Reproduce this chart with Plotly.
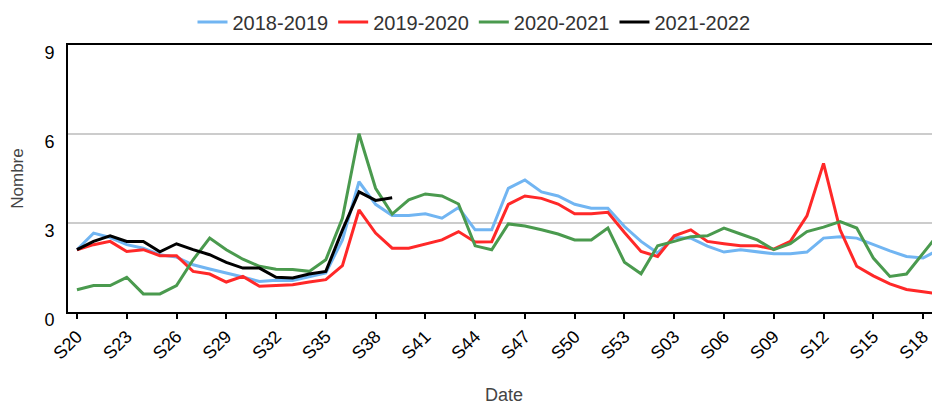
import plotly.graph_objects as go

# weeks S20..S53 then S01..S19
weeks = ["S%02d" % w for w in range(20, 54)] + ["S%02d" % w for w in range(1, 20)]
tick_weeks = weeks[::3]

s2018 = [2.10, 2.66, 2.51, 2.27, 2.15, 1.93, 1.85, 1.59, 1.45, 1.32,
         1.18, 1.03, 1.07, 1.06, 1.20, 1.32, 2.43, 4.39, 3.63, 3.25,
         3.25, 3.31, 3.16, 3.52, 2.77, 2.77, 4.17, 4.45, 4.05, 3.91,
         3.63, 3.50, 3.50, 2.88, 2.38, 1.99, 2.51, 2.49, 2.22, 2.02,
         2.10, 2.04, 1.96, 1.96, 2.02, 2.49, 2.54, 2.49, 2.27, 2.06,
         1.87, 1.82, 2.12]
s2019 = [2.10, 2.27, 2.38, 2.04, 2.10, 1.90, 1.90, 1.37, 1.28, 1.01,
         1.20, 0.87, 0.89, 0.92, 1.01, 1.09, 1.56, 3.44, 2.66, 2.15,
         2.15, 2.30, 2.43, 2.71, 2.36, 2.37, 3.63, 3.91, 3.83, 3.64,
         3.31, 3.31, 3.36, 2.68, 2.04, 1.87, 2.57, 2.77, 2.38, 2.30,
         2.23, 2.23, 2.12, 2.38, 3.24, 5.01, 2.77, 1.54, 1.22, 0.95,
         0.76, 0.68, 0.61]
s2020 = [0.75, 0.89, 0.89, 1.17, 0.61, 0.61, 0.89, 1.76, 2.49, 2.10,
         1.78, 1.54, 1.44, 1.43, 1.37, 1.76, 3.16, 6.01, 4.17, 3.30,
         3.78, 3.98, 3.91, 3.64, 2.23, 2.10, 2.97, 2.90, 2.77, 2.63,
         2.43, 2.43, 2.83, 1.68, 1.29, 2.23, 2.38, 2.54, 2.57, 2.83,
         2.63, 2.43, 2.10, 2.30, 2.71, 2.86, 3.05, 2.83, 1.82, 1.20,
         1.28, 1.99, 2.68]
s2021 = [2.10, 2.38, 2.57, 2.38, 2.38, 2.03, 2.30, 2.10, 1.93, 1.67,
         1.48, 1.48, 1.17, 1.15, 1.28, 1.37, 2.76, 4.05, 3.76, 3.85]

series = [
    ("2018-2019", s2018, "#71b5f2"),
    ("2019-2020", s2019, "#ff2828"),
    ("2020-2021", s2020, "#4a9a4e"),
    ("2021-2022", s2021, "#000000"),
]

fig = go.Figure()
for name, vals, col in series:
    fig.add_trace(go.Scatter(x=weeks[:len(vals)], y=vals, name=name, mode="lines",
                             line=dict(color=col, width=3)))

# page body has an 8px margin, so the figure is 8px smaller than the window
fig.update_layout(
    width=932, height=397,
    margin=dict(l=60, r=0, t=37, b=93),
    plot_bgcolor="white", paper_bgcolor="white",
    font=dict(family="Liberation Sans, Arial, sans-serif", size=18, color="#000"),
    legend=dict(orientation="h", xref="container", x=0.5, xanchor="center",
                yref="container", y=0.965, yanchor="middle",
                bgcolor="rgba(0,0,0,0)",
                font=dict(size=20, color="#333"), itemwidth=30),
    showlegend=True,
)
fig.update_xaxes(
    type="category", categoryorder="array", categoryarray=weeks,
    range=[-0.54, 52.02], automargin=False,
    tickmode="array", tickvals=tick_weeks, ticktext=tick_weeks,
    tickangle=-45, ticks="outside", ticklen=5, tickwidth=2, tickcolor="#000",
    showline=True, linecolor="#000", linewidth=2, mirror=True,
    showgrid=False,
    title=dict(text="Date", font=dict(size=18, color="#444"), standoff=26),
)
fig.update_yaxes(
    range=[0, 9], tickvals=[0, 3, 6, 9], automargin=False,
    showline=True, linecolor="#000", linewidth=2,
    gridcolor="#cccccc", gridwidth=2, zeroline=False,
    ticks="", ticklabelstandoff=8, ticklabelshift=8,
    title=dict(text="Nombre", font=dict(size=17, color="#444"), standoff=22),
)

fig.write_html("out.html")
